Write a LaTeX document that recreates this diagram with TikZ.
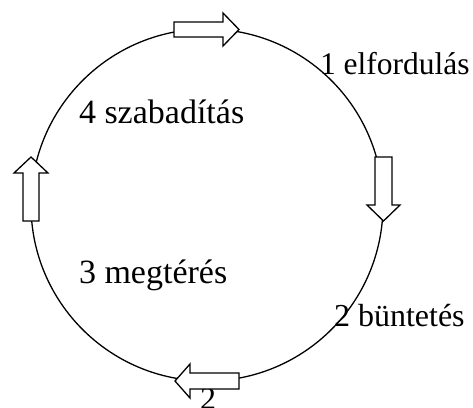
\documentclass[tikz,border=0pt]{standalone}
\usepackage{fontspec}
\setmainfont{Liberation Serif}
\begin{document}
\begin{tikzpicture}[x=1pt,y=-1pt,
  ring/.style={line width=1.3pt},
  blockarrow/.style={draw,fill=white,line width=1.3pt,line join=miter},
  lbl/.style={anchor=base west,inner sep=0pt,outer sep=0pt}]
\useasboundingbox (0,0) rectangle (473,407);
\draw[ring] (207,205) circle[radius=176pt];
% labels
\node[lbl,font=\fontsize{31.5}{38}\selectfont] (l1) at (320,74) {1 elfordulás};
\node[lbl,font=\fontsize{32}{38}\selectfont] (l2) at (334,326) {2 büntetés};
\node[lbl,font=\fontsize{34}{40}\selectfont] (l4) at (79,123) {4 szabadítás};
\node[lbl,font=\fontsize{34}{40}\selectfont] (l3) at (79,283) {3 megtérés};
\node[lbl,font=\fontsize{32}{38}\selectfont] (l5) at (200,409) {2};
% block arrows
\draw[blockarrow] (174,22) -- (223,22) -- (223,13) -- (239,29.5) -- (223,46) -- (223,37) -- (174,37) -- cycle;
\draw[blockarrow] (375,157) -- (392,157) -- (392,205) -- (400,205) -- (383.5,221) -- (367,205) -- (375,205) -- cycle;
\draw[blockarrow] (239,373) -- (190,373) -- (190,364) -- (175,381) -- (190,398) -- (190,389) -- (239,389) -- cycle;
\draw[blockarrow] (23,221) -- (23,173) -- (14,173) -- (31,157) -- (48,173) -- (39,173) -- (39,221) -- cycle;
\end{tikzpicture}
\end{document}
